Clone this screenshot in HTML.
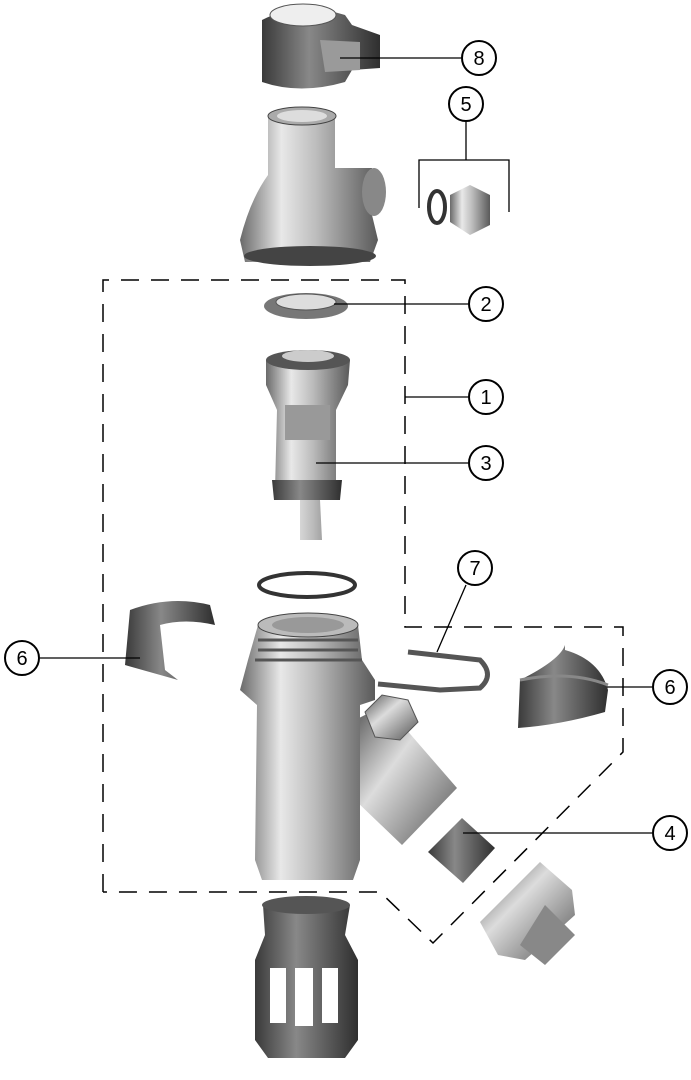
<!DOCTYPE html>
<html><head><meta charset="utf-8"><style>html,body{margin:0;padding:0;background:#fff}svg{display:block}</style></head>
<body>
<svg width="691" height="1080" viewBox="0 0 691 1080" xmlns="http://www.w3.org/2000/svg">
<defs>
<linearGradient id="m" x1="0" x2="1" y1="0" y2="0">
<stop offset="0" stop-color="#6a6a6a"/><stop offset="0.3" stop-color="#e8e8e8"/><stop offset="0.55" stop-color="#bdbdbd"/><stop offset="1" stop-color="#5a5a5a"/></linearGradient>
<linearGradient id="d" x1="0" x2="1" y1="0" y2="0">
<stop offset="0" stop-color="#3a3a3a"/><stop offset="0.4" stop-color="#888"/><stop offset="1" stop-color="#2f2f2f"/></linearGradient>
<linearGradient id="g" x1="0" x2="1" y1="0" y2="1">
<stop offset="0" stop-color="#555"/><stop offset="0.4" stop-color="#dcdcdc"/><stop offset="1" stop-color="#555"/></linearGradient>
</defs>
<g fill="none" stroke="#000" stroke-width="1.5" stroke-dasharray="18,12">
<path d="M103,892 L103,280 L405,280 L405,627 L623,627 L623,752 L433,943 L380,892 L103,892"/>
</g>
<!-- part 8 -->
<path d="M262,20 Q300,0 345,15 L352,25 L380,35 L380,68 L352,70 L345,82 Q300,95 262,82 Z" fill="url(#d)"/>
<ellipse cx="303" cy="15" rx="33" ry="11" fill="#eee" stroke="#555"/>
<path d="M320,40 L360,42 L360,70 L325,72 Z" fill="#9a9a9a"/>
<!-- top housing -->
<path d="M268,115 L335,115 L335,168 L372,168 L372,215 L378,240 L370,262 L245,262 L240,240 Q250,200 268,175 Z" fill="url(#m)"/>
<ellipse cx="302" cy="116" rx="34" ry="9" fill="#aaa" stroke="#444"/>
<ellipse cx="302" cy="116" rx="25" ry="6" fill="#ddd"/>
<ellipse cx="374" cy="192" rx="12" ry="24" fill="#888"/>
<ellipse cx="310" cy="256" rx="66" ry="10" fill="#444"/>
<!-- part 5 -->
<ellipse cx="437" cy="207" rx="8" ry="16" fill="none" stroke="#333" stroke-width="4"/>
<path d="M450,195 L470,185 L490,195 L490,225 L470,235 L450,222 Z" fill="url(#m)"/>
<!-- part 2 -->
<ellipse cx="306" cy="306" rx="42" ry="13" fill="#777"/>
<ellipse cx="306" cy="302" rx="30" ry="8" fill="#ddd" stroke="#555"/>
<!-- part 3 -->
<path d="M266,360 L350,360 L348,385 L336,410 L336,490 L320,500 L322,540 L300,540 L300,500 L275,490 L277,410 L266,385 Z" fill="url(#m)"/>
<path d="M285,405 L330,405 L330,440 L285,440 Z" fill="#999"/>
<path d="M272,480 L342,480 L340,500 L274,500 Z" fill="url(#d)"/>
<ellipse cx="308" cy="360" rx="42" ry="10" fill="#555"/>
<ellipse cx="308" cy="356" rx="26" ry="6" fill="#ccc"/>
<!-- o-ring -->
<ellipse cx="307" cy="585" rx="48" ry="12" fill="none" stroke="#333" stroke-width="4"/>
<!-- side branch -->
<path d="M355,720 L385,705 L457,788 L402,845 L355,800 Z" fill="url(#g)"/>
<!-- main body -->
<path d="M258,625 L358,625 L362,660 L375,680 L375,700 L360,705 L360,860 L353,880 L262,880 L255,860 L257,705 L240,690 L248,660 Z" fill="url(#m)"/>
<ellipse cx="308" cy="625" rx="50" ry="12" fill="#bbb" stroke="#444"/>
<ellipse cx="308" cy="625" rx="36" ry="8" fill="#999"/>
<path d="M258,640 L358,640 M258,650 L358,650 M255,660 L362,660" stroke="#555" stroke-width="3"/>
<path d="M365,712 L382,695 L408,700 L418,722 L400,740 L375,737 Z" fill="url(#g)" stroke="#555"/>
<!-- clips 6 -->
<path d="M130,610 Q170,595 210,605 L215,625 Q185,618 160,625 L165,670 L178,680 L125,665 Z" fill="url(#d)"/>
<path d="M520,680 Q560,660 565,645 L565,650 Q600,660 608,690 L605,712 Q560,725 518,728 Z" fill="url(#d)"/>
<path d="M520,680 Q570,670 608,685" stroke="#888" stroke-width="3" fill="none"/>
<!-- pin 7 -->
<path d="M408,652 L480,660 Q495,675 480,688 L440,690 L378,684" fill="none" stroke="#555" stroke-width="5"/>
<!-- part 4 -->
<path d="M462,818 L495,848 L463,883 L428,852 Z" fill="url(#d)"/>
<!-- nut -->
<path d="M480,922 L540,862 L572,890 L575,915 L525,960 L498,955 Z" fill="url(#g)"/>
<path d="M545,905 L575,935 L545,965 L520,945 Z" fill="#888"/>
<!-- strainer -->
<path d="M263,905 L350,905 L345,935 L358,960 L358,1040 L345,1058 L268,1058 L255,1040 L255,960 L265,935 Z" fill="url(#d)"/>
<ellipse cx="306" cy="905" rx="44" ry="9" fill="#555"/>
<rect x="270" y="968" width="16" height="55" fill="#fff"/><rect x="295" y="968" width="18" height="58" fill="#fff"/><rect x="322" y="968" width="16" height="55" fill="#fff"/>
<!-- leader lines -->
<g stroke="#000" stroke-width="1.3" fill="none">
<path d="M340,58 L461,58"/>
<path d="M419,208 L419,160 L509,160 L509,212 M466,160 L466,122"/>
<path d="M334,304 L468,304"/>
<path d="M405,397 L468,397"/>
<path d="M316,463 L468,463"/>
<path d="M437,652 L466,585"/>
<path d="M40,658 L140,658"/>
<path d="M607,687 L652,687"/>
<path d="M463,833 L652,833"/>
</g>
<g fill="#fff" stroke="#000" stroke-width="2" font-family="Liberation Sans, sans-serif" font-size="20" text-anchor="middle">
<circle cx="479" cy="58" r="17"/><circle cx="466" cy="104" r="17"/><circle cx="486" cy="304" r="17"/><circle cx="486" cy="397" r="17"/><circle cx="486" cy="463" r="17"/><circle cx="475" cy="568" r="17"/><circle cx="22" cy="658" r="17"/><circle cx="670" cy="687" r="17"/><circle cx="670" cy="833" r="17"/>
</g>
<g fill="#000" font-family="Liberation Sans, sans-serif" font-size="20" text-anchor="middle">
<text x="479" y="65">8</text><text x="466" y="111">5</text><text x="486" y="311">2</text><text x="486" y="404">1</text><text x="486" y="470">3</text><text x="475" y="575">7</text><text x="22" y="665">6</text><text x="670" y="694">6</text><text x="670" y="840">4</text>
</g>
</svg>
</body></html>
